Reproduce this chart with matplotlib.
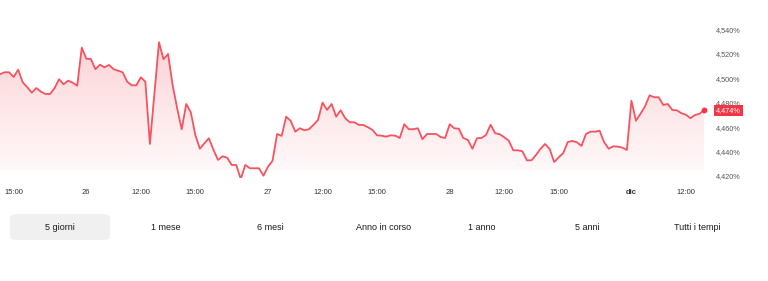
import numpy as np
import matplotlib
matplotlib.use("Agg")
import matplotlib.pyplot as plt
from matplotlib.patches import FancyBboxPatch
import matplotlib.transforms as mtransforms

plt.rcParams['font.family'] = ['Liberation Sans', 'DejaVu Sans']

# 15-minute bars, 25 nov -> 1 dic (yield in %)
yields = [
    4.5034, 4.5050, 4.5050, 4.5011, 4.5071, 4.4968, 4.4927, 4.4883, 4.4921, 4.4891,
    4.4872, 4.4872, 4.4919, 4.4993, 4.4952, 4.4981, 4.4965, 4.4940, 4.5252, 4.5161,
    4.5159, 4.5075, 4.5112, 4.5091, 4.5110, 4.5075, 4.5063, 4.5050, 4.4973, 4.4943,
    4.4943, 4.5009, 4.4973, 4.4462, 4.4880, 4.5296, 4.5157, 4.5200, 4.4946, 4.4755,
    4.4583, 4.4790, 4.4722, 4.4536, 4.4423, 4.4468, 4.4509, 4.4413, 4.4331, 4.4361,
    4.4350, 4.4290, 4.4290, 4.4175, 4.4290, 4.4263, 4.4263, 4.4263, 4.4202, 4.4276,
    4.4325, 4.4544, 4.4528, 4.4686, 4.4651, 4.4563, 4.4591, 4.4574, 4.4583, 4.4618,
    4.4659, 4.4801, 4.4741, 4.4790, 4.4686, 4.4738, 4.4673, 4.4640, 4.4640, 4.4618,
    4.4618, 4.4599, 4.4577, 4.4533, 4.4530, 4.4522, 4.4533, 4.4530, 4.4511, 4.4624,
    4.4583, 4.4583, 4.4591, 4.4501, 4.4544, 4.4544, 4.4544, 4.4519, 4.4511, 4.4624,
    4.4591, 4.4587, 4.4511, 4.4495, 4.4423, 4.4509, 4.4511, 4.4536, 4.4620, 4.4550,
    4.4542, 4.4517, 4.4489, 4.4410, 4.4410, 4.4402, 4.4328, 4.4328, 4.4372, 4.4423,
    4.4462, 4.4421, 4.4314, 4.4353, 4.4388, 4.4478, 4.4487, 4.4476, 4.4446, 4.4544,
    4.4563, 4.4563, 4.4571, 4.4476, 4.4423, 4.4443, 4.4440, 4.4432, 4.4413, 4.4817,
    4.4653, 4.4710, 4.4771, 4.4861, 4.4845, 4.4845, 4.4782, 4.4790, 4.4741, 4.4738,
    4.4714, 4.4702, 4.4673, 4.4700, 4.4710, 4.474,
]
bars = np.arange(len(yields))

xtick_pos = [3, 19, 31, 43, 59, 71, 83, 99, 111, 123, 139, 151]
xtick_labels = ["15:00", "26", "12:00", "15:00", "27", "12:00", "15:00",
                "28", "12:00", "15:00", "dic", "12:00"]
ytick_vals = [4.42, 4.44, 4.46, 4.48, 4.50, 4.52, 4.54]
ytick_labels = ["4,420%", "4,440%", "4,460%", "4,480%", "4,500%", "4,520%", "4,540%"]
last_label = "4,474%"
ranges = ["5 giorni", "1 mese", "6 mesi", "Anno in corso", "1 anno", "5 anni", "Tutti i tempi"]

red = "#f23645"
line_red = "#f7525f"

fig = plt.figure(figsize=(7.68, 2.81), dpi=100)
ax = fig.add_axes([0.0, 1 - 178 / 281, 705 / 768, 150 / 281])
ax.set_xlim(0, 155.2)
ax.set_ylim(4.4183, 4.5413)

# gradient fill under the line
base = 4.425
verts = [(bars[0], base)] + list(zip(bars, yields)) + [(bars[-1], base)]
poly = plt.Polygon(verts, closed=True, facecolor="none", edgecolor="none")
ax.add_patch(poly)
grad = np.linspace(0.22, 0.03, 256).reshape(-1, 1)
rgba = np.zeros((256, 1, 4))
rgba[..., 0], rgba[..., 1], rgba[..., 2] = 242 / 255, 54 / 255, 69 / 255
rgba[..., 3] = grad
im = ax.imshow(rgba, extent=[bars[0], bars[-1], base, max(yields)],
               aspect="auto", origin="upper", zorder=1)
im.set_clip_path(poly)

ax.plot(bars, yields, color=line_red, lw=1.3, zorder=3)
ax.plot(bars[-1], yields[-1], "o", color=red, ms=3.2, zorder=4, clip_on=False)

for s in ax.spines.values():
    s.set_visible(False)
ax.yaxis.tick_right()
ax.set_yticks(ytick_vals)
ax.set_yticklabels(ytick_labels, fontsize=5.2, color="#555555")
ax.set_xticks(xtick_pos)
ax.set_xticklabels(xtick_labels, fontsize=5.5, color="#333333")
ax.get_xticklabels()[10].set_fontweight("bold")
ax.tick_params(axis="y", length=0, pad=8)
ax.tick_params(axis="x", length=0, pad=8)

# last-value tag
trans = mtransforms.blended_transform_factory(ax.transAxes, ax.transData)
ax.text(1.0155, yields[-1], last_label, transform=trans, fontsize=5.2,
        color="white", ha="left", va="center", zorder=5,
        bbox=dict(boxstyle="square,pad=0.28", fc=red, ec="none"))

# range selector row
btn_x = [60, 166, 270, 384, 482, 587, 697]
fig.patches.append(FancyBboxPatch((10 / 768, 1 - 240 / 281), 100 / 768, 26 / 281,
                                  boxstyle="round,pad=0,rounding_size=0.012",
                                  transform=fig.transFigure, fc="#f0f0f0", ec="none"))
for bx, name in zip(btn_x, ranges):
    fig.text(bx / 768, 1 - 228 / 281, name, fontsize=6.5, color="#1a1a1a",
             ha="center", va="center")

fig.savefig("out.png", dpi=100)
